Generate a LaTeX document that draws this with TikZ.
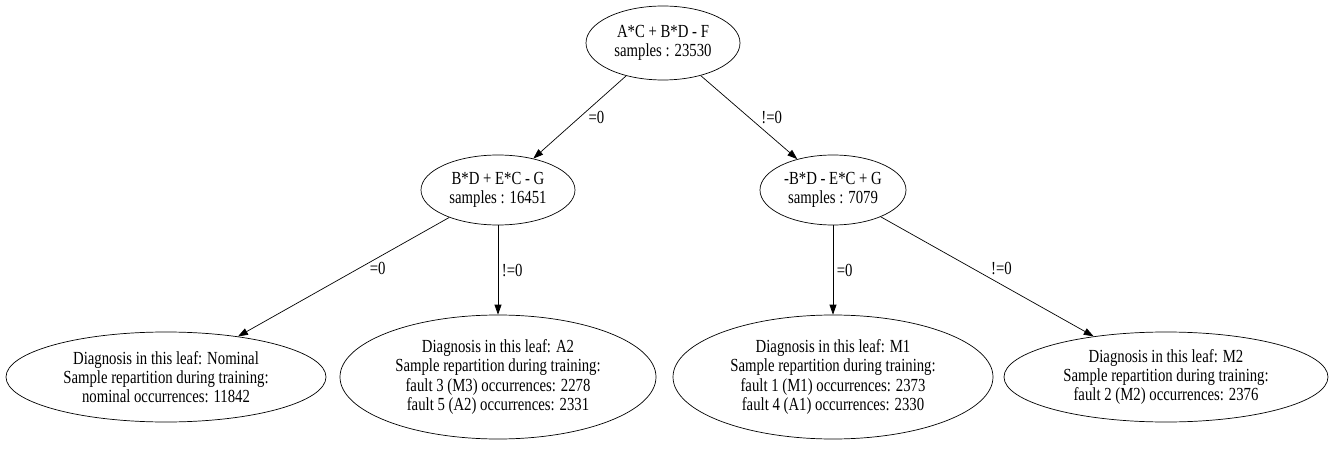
\documentclass[tikz,border=0pt]{standalone}
\usepackage{fontspec}
\setmainfont[FakeStretch=0.8]{Liberation Serif}
\usetikzlibrary{shapes.geometric,positioning,arrows.meta}

\tikzset{
	split/.style={ellipse,draw,inner sep=0pt,align=center},
	leaf/.style={ellipse,draw,inner sep=0pt,align=center,minimum width=6.4cm},
	lbl/.style={right,inner sep=2pt}
}

\begin{document}
\begin{tikzpicture}[on grid,->,>={Triangle[length=2mm,width=1.4mm]},font=\fontsize{10.5}{11}\selectfont]
	\useasboundingbox (0,0) rectangle (26.72,9);
	\node[split,minimum width=3.08cm,minimum height=1.48cm](root) at (13.26,8.14){A*C + B*D - F\\samples : 23530};
	\node[split,minimum width=3.08cm,minimum height=1.4cm](bd)[below left=2.94cm and 3.3cm of root]{B*D + E*C - G\\samples : 16451};
	\node[split,minimum width=2.92cm,minimum height=1.4cm](nbd)[below right=2.94cm and 3.4cm of root]{-B*D - E*C + G\\samples : 7079};

	\node[leaf,minimum height=1.8cm](nominal)[below left=3.74cm and 6.64cm of bd]{Diagnosis in this leaf: Nominal\\Sample repartition during training:\\nominal occurrences: 11842};
	\node[leaf,minimum width=6.32cm,minimum height=2.48cm](a2)[below=3.74cm of bd]{Diagnosis in this leaf: A2\\Sample repartition during training:\\fault 3 (M3) occurrences: 2278\\fault 5 (A2) occurrences: 2331};
	\node[leaf,minimum height=2.48cm](m1)[below=3.74cm of nbd]{Diagnosis in this leaf: M1\\Sample repartition during training:\\fault 1 (M1) occurrences: 2373\\fault 4 (A1) occurrences: 2330};
	\node[leaf,minimum width=6.48cm,minimum height=1.8cm](m2)[below right=3.74cm and 6.66cm of nbd]{Diagnosis in this leaf: M2\\Sample repartition during training:\\fault 2 (M2) occurrences: 2376};

	\path
	(root) edge node[lbl,xshift=0.1cm] {=0} (bd)
		edge node[lbl,xshift=0.17cm] {!=0} (nbd)
	(bd) edge node[lbl,pos=0.43,xshift=0.15cm] {=0} (nominal)
		edge node[lbl] {!=0} (a2)
	(nbd) edge node[lbl] {=0} (m1)
		edge node[lbl,pos=0.43,xshift=0.3cm] {!=0} (m2);
\end{tikzpicture}
\end{document}
